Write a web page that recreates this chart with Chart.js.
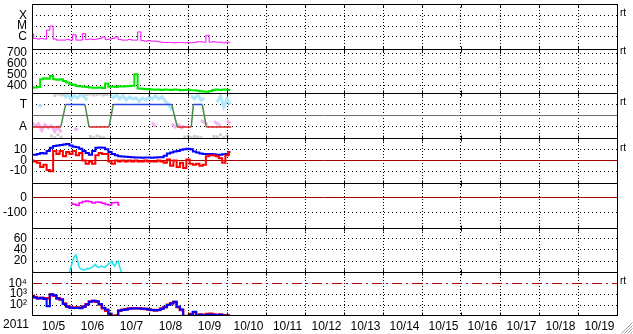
<!DOCTYPE html>
<html>
<head>
<meta charset="utf-8">
<script src="https://cdn.jsdelivr.net/npm/chart.js@4.4.1/dist/chart.umd.min.js"></script>
<style>
  html, body { margin: 0; padding: 0; background: #fff; }
</style>
</head>
<body>
<canvas id="painel" width="633" height="334"></canvas>
<script>
// x axis: days from 10/5 00:00, labels at the middle of each day
const dayLabels = ['10/5', '10/6', '10/7', '10/8', '10/9', '10/10', '10/11', '10/12', '10/13', '10/14', '10/15', '10/16', '10/17', '10/18', '10/19'];
const yearLabel = '2011';

// most series are sampled every 2 hours from 10/5 00:00
const stepHours = 2;
const densityStepHours = 1;

const xray = [1.8e-6, 7.1e-7, 6.3e-7, 7.1e-7, 6.3e-7, 4.2e-6, 1.0e-5, 6.3e-7, 5.0e-7, 5.0e-7,
  5.0e-7, 5.6e-7, 5.0e-7, 1.6e-6, 5.0e-7, 5.0e-7, 2.0e-6, 5.6e-7, 6.3e-7, 5.6e-7,
  6.3e-7, 7.1e-7, 1.0e-6, 5.6e-7, 6.3e-7, 7.1e-7, 1.0e-6, 5.6e-7, 5.0e-7, 5.0e-7,
  5.6e-7, 5.0e-7, 5.0e-7, 2.9e-6, 4.5e-7, 4.0e-7, 4.5e-7, 4.0e-7, 4.0e-7, 3.5e-7,
  3.2e-7, 3.0e-7, 3.0e-7, 3.0e-7, 2.8e-7, 3.0e-7, 3.0e-7, 2.8e-7, 3.0e-7, 2.8e-7,
  3.0e-7, 3.5e-7, 3.5e-7, 3.2e-7, 1.4e-6, 3.2e-7, 3.5e-7, 3.2e-7, 3.2e-7, 2.8e-7,
  3.2e-7, 3.2e-7];

const speed = [385, 385, 390, 460, 470, 465, 490, 460, 455, 460,
  445, 430, 415, 410, 398, 395, 392, 390, 385, 383,
  382, 385, 380, 420, 392, 394, 390, 395, 393, 396,
  398, 400, 505, 375, 372, 370, 368, 366, 364, 366,
  362, 365, 363, 362, 366, 364, 360, 362, 364, 360,
  358, 355, 350, 348, 345, 352, 362, 365, 362, 366,
  363, 362];

// predicted sector: 1 = T (toward), -1 = A (away)
const sectorHours = [0, 17.7, 20.7, 32.6, 35.1, 47.4, 50, 86, 89.4, 98, 99.3, 104.8, 107.3, 122.6];
const sectorValues = [-1, -1, 1, 1, -1, -1, 1, 1, -1, -1, 1, 1, -1, -1];

const towardObs = [null, null, 1.0, 0.8, null, null, null, null, null, null,
  1.6, 1.9, 1.5, 1.8, 1.6, 1.9, 1.7, 1.4, null, null,
  null, null, null, null, 1.9, 1.6, 1.9, 1.5, 1.8, 1.4,
  1.7, 1.5, 1.6, 1.3, 1.6, 1.4, 1.7, 1.5, 1.8, 1.5,
  1.7, 1.3, 1.0, 0.5, null, null, null, null, null, 1.8,
  1.5, 1.9, 1.4, 1.6, null, null, null, 1.2, 1.8, 0.8,
  1.5, 1.0];
const awayObs = [-0.6, -0.9, -0.7, -1.3, -0.8, -1.1, -0.9, -1.4, -1.0, -1.5,
  null, null, null, -1.1, -1.3, null, null, null, null, null,
  null, null, null, null, null, null, null, null, null, null,
  null, null, null, null, null, null, null, -0.6, -1.0, null,
  null, null, null, -0.7, -1.0, -0.8, -1.1, -0.9, null, null,
  null, null, -0.4, -0.6, -0.8, null, -0.5, -0.7, -0.9, null,
  -0.4, -0.7];
const mixedHours = [14, 16, 18, 20, 30, 32, 34, 36, 38, 40, 42, 44, 46,
  12, 14, 16, 18, 36, 38, 40, 42, 44, 94, 96, 98, 100, 102, 104, 112, 114, 116, 118, 120];
const mixedValues = [1.8, 1.95, 1.85, 1.9, 1.95, 1.85, 1.9, 1.95, 1.85, 1.9, 1.95, 1.85, 1.9,
  -1.8, -1.95, -1.7, -1.9, -1.85, -1.95, -1.8, -1.9, -1.95, -1.9, -1.85, -1.95, -1.85, -1.9, -1.95,
  -1.85, -1.9, -1.7, -1.95, -1.8];

const bt = [5.5, 5.5, 6, 7, 6.5, 9, 12, 13.5, 14, 14.5,
  15, 15.4, 14, 13, 12.5, 11, 9, 7, 5.5, 9,
  12, 12.3, 12, 10.5, 8, 6, 5, 4, 3.7, 3.5,
  3.3, 3, 2.8, 2.7, 2.5, 2.7, 2.8, 2.6, 2.8, 3,
  3, 4.5, 6.5, 7.5, 8.5, 9, 10, 10.5, 11, 10.5,
  8.5, 7.5, 6.5, 6, 6, 6.2, 5.8, 5.5, 5.5, 5.8,
  6, 8];
const bz = [0, -1, -2, -6, -4, -9, -10, 9, 6, 9,
  4, 8, 6, 9, 5, 7, 0, -3, -1, -3,
  5, 7, 6, 6, -1, -3, 0, -1, 0, -1,
  0, -1, 0, -1, -1, 0, -1, -1, -1, 0,
  -1, -2, 1, -5, 0, -6, -2, -7, 1, -3,
  -4, -3, -5, -4, 4, 5, 5, 4, 2, -2,
  5, 8];

const dst = [-37, null, null, null, null, null, null, null, null, null,
  null, null, -37, -44, -50, -33, -25, -22, -27, -35,
  -28, -30, -37, -45, -48, -33, -32, -48];

// hourly
const density = [5, 0, null, null, null, null, null, null, null, null,
  null, null, null, null, null, null, null, null, null, null,
  null, null, null, 0, 10, 20, 28, 31, 22, 9,
  6, 5, 4, 5, 7, 6, 8, 9, 11, 14,
  10, 9, 10, 11, 9, 9, 12, 15, 17, 20,
  14, 11, 17, 20, 9, 0];

const protonBlue = [680, 500, 400, 470, 355, 79, 1000, 790, 400, 316,
  126, 71, 56, 54, 56, 52, 71, 112, 200, 250,
  224, 126, 56, 40, 16, 10, 10, 32, 35, 40,
  45, 48, 50, 48, 45, 45, 40, 35, 32, 35,
  45, 63, 100, 141, 200, 71, 40, 10, 10, 13,
  25, 11, 13, 11, 13, 14, 13, 11, 13, 11,
  11, 10];
const protonRed = [700, 560, 430, 450, 400, 420, 900, 700, 420, 330,
  140, 80, 60, 58, 60, 56, 75, 120, 210, 240,
  200, 110, 50, 30, 12, 10, 11, 30, 38, 42,
  48, 50, 52, 50, 47, 44, 40, 36, 33, 36,
  48, 66, 105, 150, 190, 65, 35, 10, 10, 15,
  22, 12, 14, 12, 15, 16, 14, 12, 14, 12,
  12, 10];

// tick values and labels of each panel
const xrayTicks = [1e-4, 1e-5, 1e-6];
const xrayTickLabels = ['X', 'M', 'C'];
const speedTicks = [700, 600, 500, 400];
const sectorTicks = [1, 0, -1];
const sectorTickLabels = ['T', '', 'A'];
const imfTicks = [10, 0, -10];
const dstTicks = [0, -100];
const densityTicks = [60, 40, 20];
const protonTicks = [1e4, 1e3, 1e2];
const protonTickLabels = ['10\u2074', '10\u00b3', '10\u00b2'];

const FONT = '"Liberation Sans", Arial, "DejaVu Sans", sans-serif';
Chart.defaults.font.family = FONT;
Chart.defaults.font.size = 12;
Chart.defaults.color = '#000';

function series(values, step) {
    return values.map((v, i) => ({ x: i * step / 24, y: v }));
}

function pairs(hours, values) {
    return hours.map((h, i) => ({ x: h / 24, y: values[i] }));
}

// one panel = one y axis of the stack
function panel(weight, height, type, min, max, tickValues, tickLabels, special) {
    const isSpecial = c => special && c.tick && c.tick.value === special.value;
    return {
        type: type,
        min: min,
        max: max,
        position: 'left',
        stack: 'panels',
        stackWeight: height,
        weight: weight,
        afterFit: s => { s.width = 32; s.paddingTop = 0; s.paddingBottom = 0; },
        afterBuildTicks: s => { s.ticks = tickValues.map(v => ({ value: v })); },
        ticks: {
            autoSkip: false,
            padding: 5,
            color: '#000',
            font: { size: 12 },
            callback: (v, i) => tickLabels ? tickLabels[i] : String(tickValues[i])
        },
        grid: {
            drawTicks: false,
            lineWidth: 1,
            color: c => isSpecial(c) ? special.color : '#000'
        },
        border: {
            display: false,
            dash: c => isSpecial(c) ? special.dash : [1, 3]
        }
    };
}

const frame = {
    id: 'frame',
    afterDraw(chart) {
        const { ctx, chartArea: a, scales } = chart;
        const ids = ['y1', 'y2', 'y3', 'y4', 'y5', 'y6', 'y7'];
        const px = v => Math.round(v) + 0.5;
        const seps = ids.map(id => px(scales[id].top)).concat([px(a.bottom) - 1]);
        ctx.save();
        ctx.strokeStyle = '#000';
        ctx.lineWidth = 1;
        ctx.beginPath();
        seps.forEach(y => { ctx.moveTo(a.left, y); ctx.lineTo(a.right + 1, y); });
        ctx.moveTo(px(a.left), seps[0]); ctx.lineTo(px(a.left), seps[7]);
        ctx.moveTo(px(a.right), seps[0]); ctx.lineTo(px(a.right), seps[7]);
        // short solid marks where the day lines cross the panel borders
        for (let d = 1; d < dayLabels.length; d++) {
            const x = px(scales.x.getPixelForValue(d));
            seps.forEach((y, i) => {
                ctx.moveTo(x, i === 0 ? y : y - 3);
                ctx.lineTo(x, i === seps.length - 1 ? y : y + 3);
            });
        }
        ctx.stroke();

        ctx.fillStyle = '#000';
        ctx.font = '12px ' + FONT;
        ctx.textBaseline = 'middle';
        ctx.textAlign = 'left';
        ctx.fillText(yearLabel, 3, 325);

        ctx.font = '10px ' + FONT;
        [['y1', 1e-4], ['y2', 700], ['y3', 1], ['y4', 10], ['y7', 1e4]].forEach(([id, v]) => {
            ctx.fillText('rt', a.right + 3, scales[id].getPixelForValue(v) - 2);
        });

        // window grip in the corner
        ctx.lineWidth = 1;
        for (let k = 0; k < 4; k++) {
            ctx.strokeStyle = '#9a9a9a';
            ctx.beginPath();
            ctx.moveTo(632.5, 322.5 + k * 3);
            ctx.lineTo(621.5 + k * 3, 333.5);
            ctx.stroke();
        }
        ctx.restore();
    }
};

const xScale = {
    type: 'linear',
    min: 0,
    max: dayLabels.length,
    position: 'bottom',
    afterFit: s => { s.height = 18; s.paddingLeft = 0; s.paddingRight = 0; },
    afterBuildTicks: s => {
        const t = [];
        for (let v = 0; v <= dayLabels.length; v += 0.5) t.push({ value: v });
        s.ticks = t;
    },
    ticks: {
        autoSkip: false,
        maxRotation: 0,
        padding: 3,
        labelOffset: 2,
        color: '#000',
        font: { size: 12 },
        callback: v => (v % 1 === 0.5) ? dayLabels[Math.floor(v)] : ''
    },
    grid: {
        drawTicks: false,
        lineWidth: 1,
        color: c => {
            const v = c.tick ? c.tick.value : -1;
            return Number.isInteger(v) && v > 0 && v < dayLabels.length ? '#000' : 'rgba(0,0,0,0)';
        }
    },
    border: { display: false, dash: [1, 2] }
};

new Chart(document.getElementById('painel'), {
    type: 'line',
    data: {
        datasets: [
            {
                label: 'Raio X', yAxisID: 'y1', data: series(xray, stepHours),
                borderColor: '#ff00ff', borderWidth: 1, stepped: 'middle'
            },
            {
                label: 'Velocidade', yAxisID: 'y2', data: series(speed, stepHours),
                borderColor: '#00e600', borderWidth: 2, stepped: 'middle'
            },
            {
                label: 'Setor', yAxisID: 'y3', data: pairs(sectorHours, sectorValues),
                borderWidth: 1.5,
                segment: {
                    borderColor: c => c.p0.parsed.y !== c.p1.parsed.y ? '#4a8a4a'
                        : (c.p0.parsed.y > 0 ? '#2a4ae8' : '#e02020')
                }
            },
            {
                label: 'T obs', yAxisID: 'y3', data: series(towardObs, stepHours),
                borderColor: '#aee6fa', borderWidth: 3
            },
            {
                label: 'A obs', yAxisID: 'y3', data: series(awayObs, stepHours),
                borderColor: '#f4b4f0', borderWidth: 3
            },
            {
                label: 'Misto', yAxisID: 'y3', data: pairs(mixedHours, mixedValues),
                showLine: false, pointRadius: 2, pointStyle: 'rect',
                backgroundColor: '#cccccc', borderWidth: 0
            },
            {
                label: 'Bz', yAxisID: 'y4', data: series(bz, stepHours),
                borderColor: '#ff0000', borderWidth: 2, stepped: 'middle'
            },
            {
                label: 'Bt', yAxisID: 'y4', data: series(bt, stepHours),
                borderColor: '#0000ff', borderWidth: 2, stepped: 'middle'
            },
            {
                label: 'Dst', yAxisID: 'y5', data: series(dst, stepHours),
                borderColor: '#ff00ff', borderWidth: 1.5, stepped: 'middle'
            },
            {
                label: 'Densidade', yAxisID: 'y6', data: series(density, densityStepHours),
                borderColor: '#1ee6ee', borderWidth: 1.5
            },
            {
                label: 'Protons', yAxisID: 'y7', data: series(protonBlue, stepHours),
                borderColor: '#0000ff', borderWidth: 2, stepped: 'middle'
            },
            {
                label: 'Protons 2', yAxisID: 'y7', data: series(protonRed, stepHours),
                borderColor: '#ff0000', borderWidth: 2.5, stepped: 'middle'
            }
        ]
    },
    options: {
        responsive: false,
        animation: false,
        devicePixelRatio: 1,
        layout: { padding: { top: 2, right: 16, bottom: 0, left: 0 } },
        elements: { point: { radius: 0 }, line: { tension: 0 } },
        plugins: { legend: { display: false }, tooltip: { enabled: false } },
        scales: {
            x: xScale,
            y1: panel(7, 45, 'logarithmic', Math.pow(10, -7.1), Math.pow(10, -2.95), xrayTicks, xrayTickLabels),
            y2: panel(6, 45, 'linear', 330, 740, speedTicks),
            y3: panel(5, 45, 'linear', -2, 2, sectorTicks, sectorTickLabels, { value: 0, color: '#6e6e6e', dash: [] }),
            y4: panel(4, 45, 'linear', -21, 21, imfTicks, null, { value: 0, color: '#a00000', dash: [] }),
            y5: panel(3, 45, 'linear', -200, 100, dstTicks, null, { value: 0, color: '#a00000', dash: [] }),
            y6: panel(2, 45, 'linear', 0, 80, densityTicks),
            y7: panel(1, 44, 'logarithmic', 10, 1e5, protonTicks, protonTickLabels, { value: 1e4, color: '#b00000', dash: [10, 4, 2, 4] })
        }
    },
    plugins: [frame]
});
</script>
</body>
</html>
